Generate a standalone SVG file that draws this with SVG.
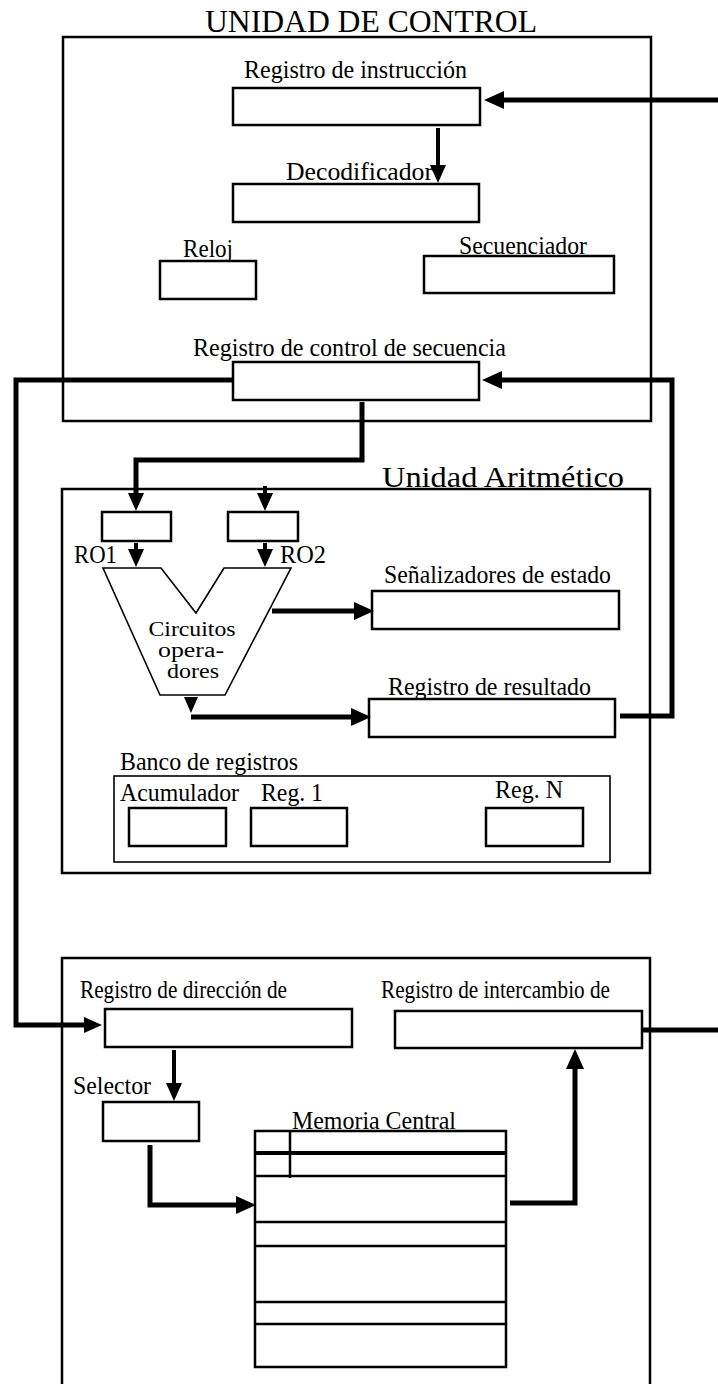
<svg xmlns="http://www.w3.org/2000/svg" width="718" height="1384" viewBox="0 0 718 1384" font-family="'Liberation Serif', 'Times New Roman', serif">
<style>
text{font-family:'Liberation Serif','Times New Roman',serif;font-size:25px;fill:#000}
text.s{font-size:20px}
text.big{font-size:32px}
text.ua{font-size:29px}
.box{fill:#fff;stroke:#000;stroke-width:2.5}
.frame{fill:none;stroke:#000;stroke-width:2.5}
.thin{fill:#fff;stroke:#000;stroke-width:1.6}
.c{fill:none;stroke:#000;stroke-width:5;stroke-linejoin:miter}
.c4{fill:none;stroke:#000;stroke-width:4}
.ml{stroke:#000;stroke-width:2.5}
</style>
<defs>
<marker id="ah" viewBox="0 0 20 18" markerWidth="20" markerHeight="18" refX="0" refY="9" orient="auto" markerUnits="userSpaceOnUse">
<path d="M0,0 L20,9 L0,18 z" fill="#000"/>
</marker>
<marker id="as" viewBox="0 0 18 16" markerWidth="18" markerHeight="16" refX="0" refY="8" orient="auto" markerUnits="userSpaceOnUse">
<path d="M0,0 L18,8 L0,16 z" fill="#000"/>
</marker>
</defs>
<rect width="718" height="1384" fill="#fff"/>

<g id="unidad-control">
<text class="big" x="371" y="32" text-anchor="middle" textLength="332" lengthAdjust="spacingAndGlyphs">UNIDAD DE CONTROL</text>
<rect class="frame" x="63" y="37" width="588" height="384"/>
</g>

<g id="registro-instruccion">
<text x="244" y="78" textLength="223" lengthAdjust="spacingAndGlyphs">Registro de instrucción</text>
<rect class="box" x="233" y="88" width="247" height="37"/>
</g>

<g id="decodificador">
<text x="286" y="180" textLength="147" lengthAdjust="spacingAndGlyphs">Decodificador</text>
<rect class="box" x="233" y="184" width="246" height="38"/>
</g>

<g id="reloj">
<text x="183" y="257" textLength="50" lengthAdjust="spacingAndGlyphs">Reloj</text>
<rect class="box" x="160" y="261" width="96" height="38"/>
</g>

<g id="secuenciador">
<text x="459" y="254" textLength="128" lengthAdjust="spacingAndGlyphs">Secuenciador</text>
<rect class="box" x="424" y="256" width="190" height="37"/>
</g>

<g id="registro-control-secuencia">
<text x="193" y="356" textLength="313" lengthAdjust="spacingAndGlyphs">Registro de control de secuencia</text>
<rect class="box" x="233" y="362" width="246" height="38"/>
</g>

<g id="unidad-aritmetica">
<text class="ua" x="382" y="487" textLength="242" lengthAdjust="spacingAndGlyphs">Unidad Aritmético</text>
<rect class="frame" x="62" y="489" width="588" height="384"/>
</g>

<g id="ro1">
<rect class="box" x="102" y="512" width="69" height="29"/>
<text x="74" y="563" textLength="43" lengthAdjust="spacingAndGlyphs">RO1</text>
</g>

<g id="ro2">
<rect class="box" x="228" y="512" width="70" height="29"/>
<text x="280" y="563" textLength="46" lengthAdjust="spacingAndGlyphs">RO2</text>
</g>

<g id="circuitos-operadores">
<polygon points="103,568 161,568 196,613 224,568 291,568 225,695 160,695" fill="#fff" stroke="#000" stroke-width="1.6"/>
<text class="s" x="192" y="636" text-anchor="middle" textLength="87" lengthAdjust="spacingAndGlyphs">Circuitos</text>
<text class="s" x="191" y="657" text-anchor="middle" textLength="66" lengthAdjust="spacingAndGlyphs">opera-</text>
<text class="s" x="193" y="678" text-anchor="middle" textLength="52" lengthAdjust="spacingAndGlyphs">dores</text>
</g>

<g id="senalizadores">
<text x="384" y="583" textLength="227" lengthAdjust="spacingAndGlyphs">Señalizadores de estado</text>
<rect class="box" x="372" y="591" width="247" height="38"/>
</g>

<g id="registro-resultado">
<text x="388" y="695" textLength="203" lengthAdjust="spacingAndGlyphs">Registro de resultado</text>
<rect class="box" x="369" y="699" width="246" height="38"/>
</g>

<g id="banco-registros">
<text x="120" y="770" textLength="178" lengthAdjust="spacingAndGlyphs">Banco de registros</text>
<rect class="thin" x="114" y="776" width="496" height="86"/>
<text x="120" y="801" textLength="119" lengthAdjust="spacingAndGlyphs">Acumulador</text>
<rect class="box" x="129" y="808" width="97" height="38"/>
<text x="261" y="801" textLength="62" lengthAdjust="spacingAndGlyphs">Reg. 1</text>
<rect class="box" x="251" y="808" width="96" height="38"/>
<text x="495" y="798" textLength="68" lengthAdjust="spacingAndGlyphs">Reg. N</text>
<rect class="box" x="486" y="808" width="97" height="38"/>
</g>

<g id="memoria">
<path class="frame" d="M62,1400 V958 H650 V1400"/>
</g>

<g id="registro-direccion">
<text x="80" y="998" textLength="207" lengthAdjust="spacingAndGlyphs">Registro de dirección de</text>
<rect class="box" x="105" y="1009" width="247" height="38"/>
</g>

<g id="registro-intercambio">
<text x="381" y="998" textLength="229" lengthAdjust="spacingAndGlyphs">Registro de intercambio de</text>
<rect class="box" x="395" y="1011" width="247" height="37"/>
</g>

<g id="selector">
<text x="73" y="1094" textLength="78" lengthAdjust="spacingAndGlyphs">Selector</text>
<rect class="box" x="103" y="1102" width="96" height="39"/>
</g>

<g id="memoria-central">
<rect class="box" x="255" y="1131" width="251" height="236"/>
<line class="ml" x1="255" y1="1176" x2="506" y2="1176"/>
<line class="ml" x1="255" y1="1222" x2="506" y2="1222"/>
<line class="ml" x1="255" y1="1246" x2="506" y2="1246"/>
<line class="ml" x1="255" y1="1302" x2="506" y2="1302"/>
<line class="ml" x1="255" y1="1324" x2="506" y2="1324"/>
<line x1="255" y1="1153" x2="506" y2="1153" stroke="#000" stroke-width="4"/>
<line class="ml" x1="290" y1="1131" x2="290" y2="1178"/>
<text x="292" y="1129" textLength="164" lengthAdjust="spacingAndGlyphs">Memoria Central</text>
</g>

<g id="connectors">
<path class="c" d="M718,100 H504" marker-end="url(#ah)"/>
<path class="c4" d="M438,128 V165" marker-end="url(#as)"/>
<path class="c" d="M620,716 H672 V380 H502" marker-end="url(#ah)"/>
<path class="c" d="M232,380 H16 V1025 H84" marker-end="url(#as)"/>
<path class="c" d="M362,402 V460 H136 V493" marker-end="url(#as)"/>
<path class="c4" d="M265,486 V493" marker-end="url(#as)"/>
<path class="c4" d="M136,543 V549" marker-end="url(#as)"/>
<path class="c4" d="M265,543 V549" marker-end="url(#as)"/>
<path class="c" d="M272,611 H354" marker-end="url(#ah)"/>
<polygon points="184,697 198,697 191,713" fill="#000"/>
<path class="c" d="M191,717 H351" marker-end="url(#ah)"/>
<path class="c4" d="M174,1050 V1083" marker-end="url(#as)"/>
<path class="c" d="M150,1145 V1205 H236" marker-end="url(#ah)"/>
<path class="c" d="M510,1203 H575 V1069" marker-end="url(#ah)"/>
<path class="c" d="M642,1030 H718"/>
</g>
</svg>
